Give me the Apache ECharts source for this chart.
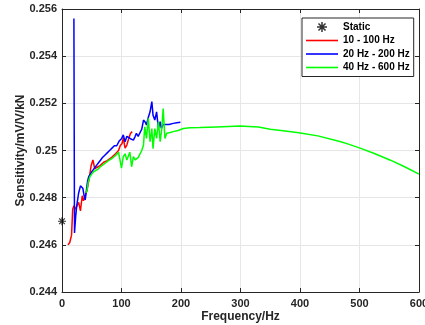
<!DOCTYPE html>
<html>
<head>
<meta charset="utf-8">
<script src="https://cdn.jsdelivr.net/npm/echarts@6/dist/echarts.min.js"></script>
<style>
  html, body { margin: 0; padding: 0; background: #fff; }
  #chart { width: 425px; height: 325px; }
</style>
</head>
<body>
<div id="chart"></div>
<script>
// values
const staticPoint = [0, 0.247];

const redFreq = [10, 11, 13, 16, 18, 20, 22, 25, 28, 31, 34, 36, 39, 42, 45, 49, 52, 55, 59, 64, 70, 76, 84, 90, 95, 98, 101, 103, 106, 109, 112, 115, 118];
const redVal = [0.2460, 0.24595, 0.2461, 0.2464, 0.24751, 0.24766, 0.2475, 0.24744, 0.2478, 0.24744, 0.24808, 0.24787, 0.2478, 0.2483, 0.24872, 0.24936, 0.2496, 0.24922, 0.24929, 0.24936, 0.2495, 0.24957, 0.24972, 0.24986, 0.2500, 0.25021, 0.2503, 0.25052, 0.2501, 0.25023, 0.2505, 0.25072, 0.2508];

const blueFreq = [20, 21, 23, 25, 28, 31, 33, 35, 37, 39, 41, 43, 45, 48, 50, 53, 56, 59, 62, 65, 68, 72, 76, 80, 84, 88, 92, 96, 100, 103, 106, 109, 112, 115, 117, 120, 123, 125, 128, 131, 134, 137, 140, 142, 145, 148, 151, 153, 156, 159, 162, 165, 167, 170, 173, 180, 187, 193, 199];
const blueVal = [0.2556, 0.2465, 0.2472, 0.2477, 0.2482, 0.2485, 0.2485, 0.2484, 0.2481, 0.2479, 0.2483, 0.2487, 0.2489, 0.2490, 0.2491, 0.2492, 0.2493, 0.2494, 0.2495, 0.2496, 0.2497, 0.2498, 0.2499, 0.2500, 0.2501, 0.2502, 0.2502, 0.2504, 0.2505, 0.25066, 0.25037, 0.2506, 0.25066, 0.2505, 0.25058, 0.25044, 0.2506, 0.25073, 0.2506, 0.25052, 0.2509, 0.25129, 0.2512, 0.25108, 0.2514, 0.25164, 0.25207, 0.2515, 0.25129, 0.25164, 0.25094, 0.25122, 0.25094, 0.2511, 0.25108, 0.2511, 0.25115, 0.25118, 0.2512];

const greenFreq = [40, 42, 44, 47, 50, 53, 56, 60, 64, 67, 72, 78, 84, 90, 95, 98, 100, 103, 106, 109, 111, 114, 117, 120, 123, 125, 128, 131, 134, 137, 139, 142, 145, 148, 151, 153, 156, 159, 162, 165, 168, 170, 173, 176, 182, 187, 195, 204, 215, 232, 260, 299, 330, 350, 375, 398, 400, 403, 430, 467, 480, 501, 525, 551, 575, 600];
const greenVal = [0.2482, 0.2483, 0.24865, 0.2489, 0.2490, 0.2491, 0.24915, 0.2492, 0.2493, 0.24936, 0.24945, 0.24957, 0.24966, 0.24979, 0.24993, 0.2500, 0.24925, 0.24974, 0.24986, 0.2496, 0.24952, 0.24993, 0.24931, 0.24974, 0.2496, 0.24952, 0.2497, 0.24966, 0.2500, 0.25023, 0.2510, 0.25051, 0.25136, 0.25037, 0.25093, 0.25008, 0.25093, 0.25051, 0.25122, 0.25037, 0.2510, 0.25178, 0.25051, 0.25073, 0.25076, 0.2508, 0.25085, 0.25093, 0.25096, 0.25097, 0.2510, 0.25104, 0.2510, 0.2509, 0.25083, 0.25075, 0.25068, 0.25073, 0.25062, 0.25038, 0.25028, 0.2501, 0.24987, 0.2496, 0.24932, 0.2490];

const seriesNames = ['Static', '10 - 100 Hz', '20 Hz - 200 Hz', '40 Hz - 600 Hz'];
const xTicks = { min: 0, max: 600, interval: 100 };
const yTicks = { min: 0.244, max: 0.256, interval: 0.002 };

const pair = (xs, ys) => xs.map((x, i) => [x, ys[i]]);

// asterisk marker like MATLAB's '*'
const star = 'path://M-1.5,-10L1.5,-10L1.5,10L-1.5,10Z M-10,-1.5L10,-1.5L10,1.5L-10,1.5Z ' +
  'M-8.1,-6L-6,-8.1L8.1,6L6,8.1Z M6,-8.1L8.1,-6L-6,8.1L-8.1,6Z';
// plain line for the legend (no marker in the middle)
const lineIcon = 'path://M0,0L32,0L32,1.6L0,1.6Z';

const ink = '#262626';
const font = "'Liberation Sans', Arial, sans-serif";

const chart = echarts.init(document.getElementById('chart'), null, { renderer: 'canvas' });

const boxAxis = {
  axisLine: { show: true, onZero: false, lineStyle: { color: ink, width: 1 } },
  axisTick: { show: true, inside: true, length: 4, lineStyle: { color: ink } },
  axisLabel: { show: false },
  splitLine: { show: false }
};

chart.setOption({
  animation: false,
  backgroundColor: '#fff',
  grid: { left: 62, right: 6, top: 9, bottom: 33, outerBoundsMode: 'none' },
  legend: {
    orient: 'vertical',
    left: 302,
    top: 18,
    padding: [4, 4, 4, 4],
    itemGap: 3.5,
    itemWidth: 32,
    itemHeight: 10,
    symbolKeepAspect: true,
    backgroundColor: '#fff',
    borderColor: ink,
    borderWidth: 1,
    borderRadius: 0,
    textStyle: { fontFamily: font, fontWeight: 'bold', fontSize: 10, color: '#000' },
    data: [
      { name: seriesNames[0], icon: star },
      { name: seriesNames[1], icon: lineIcon },
      { name: seriesNames[2], icon: lineIcon },
      { name: seriesNames[3], icon: lineIcon }
    ]
  },
  xAxis: [
    {
      type: 'value',
      min: xTicks.min, max: xTicks.max, interval: xTicks.interval,
      name: 'Frequency/Hz',
      nameLocation: 'middle',
      nameGap: 19,
      nameMoveOverlap: false,
      nameTextStyle: { fontFamily: font, fontWeight: 'bold', fontSize: 12, color: ink },
      axisLine: { show: true, onZero: false, lineStyle: { color: ink, width: 1 } },
      axisTick: { show: true, inside: true, length: 4, lineStyle: { color: ink } },
      axisLabel: { fontFamily: font, fontWeight: 'bold', fontSize: 11, color: ink, margin: 6 },
      splitLine: { show: true, lineStyle: { color: '#e6e6e6', width: 1 } }
    },
    Object.assign({ type: 'value', position: 'top', min: xTicks.min, max: xTicks.max, interval: xTicks.interval }, boxAxis)
  ],
  yAxis: [
    {
      type: 'value',
      min: yTicks.min, max: yTicks.max, interval: yTicks.interval,
      name: 'Sensitivity/mV/V/kN',
      nameLocation: 'middle',
      nameGap: 35,
      nameMoveOverlap: false,
      nameTextStyle: { fontFamily: font, fontWeight: 'bold', fontSize: 12, color: ink },
      axisLine: { show: true, onZero: false, lineStyle: { color: ink, width: 1 } },
      axisTick: { show: true, inside: true, length: 4, lineStyle: { color: ink } },
      axisLabel: {
        fontFamily: font, fontWeight: 'bold', fontSize: 11, color: ink, margin: 5,
        formatter: v => String(+v.toFixed(3))
      },
      splitLine: { show: true, lineStyle: { color: '#e6e6e6', width: 1 } }
    },
    Object.assign({ type: 'value', position: 'right', min: yTicks.min, max: yTicks.max, interval: yTicks.interval }, boxAxis)
  ],
  series: [
    {
      name: seriesNames[0],
      type: 'scatter',
      data: [staticPoint],
      symbol: star,
      symbolSize: 8,
      clip: false,
      itemStyle: { color: '#000' },
      z: 5
    },
    {
      name: seriesNames[1],
      type: 'line',
      data: pair(redFreq, redVal),
      symbol: 'none',
      lineStyle: { color: '#ff0000', width: 1.5 },
      itemStyle: { color: '#ff0000' },
      z: 2
    },
    {
      name: seriesNames[2],
      type: 'line',
      data: pair(blueFreq, blueVal),
      symbol: 'none',
      lineStyle: { color: '#0000ff', width: 1.5 },
      itemStyle: { color: '#0000ff' },
      z: 3
    },
    {
      name: seriesNames[3],
      type: 'line',
      data: pair(greenFreq, greenVal),
      symbol: 'none',
      lineStyle: { color: '#00ff00', width: 1.5 },
      itemStyle: { color: '#00ff00' },
      z: 4
    }
  ]
});
</script>
</body>
</html>
